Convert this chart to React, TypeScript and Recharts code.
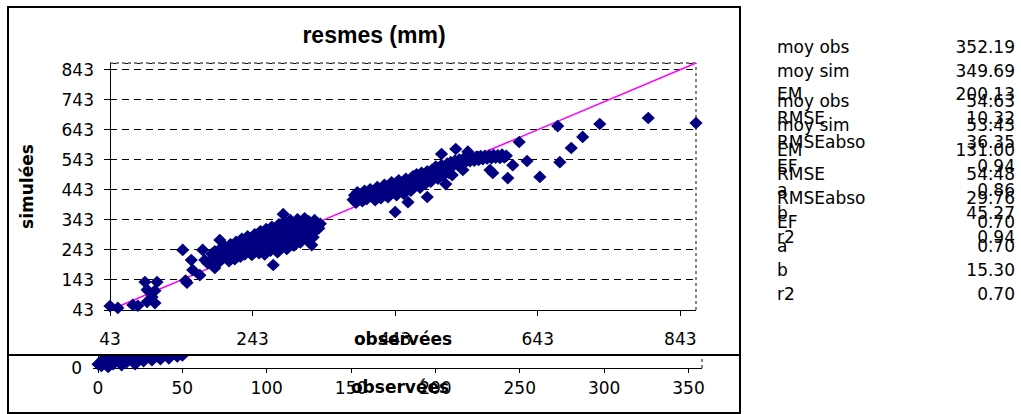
import React from "react";
import {
  ScatterChart,
  Scatter,
  XAxis,
  YAxis,
  CartesianGrid,
  ReferenceLine,
} from "recharts";

const lowPoints: [number, number][] = [
  [43, 56], [54, 50], [75, 60], [82, 57], [92, 136], [109, 136], [95, 110],
  [106, 107], [102, 86], [95, 70], [106, 66],
];

const midEdgePoints: [number, number][] = [
  [145, 243], [151, 134], [149, 141], [157, 209], [159, 176], [169, 159],
  [173, 243], [176, 209], [180, 199], [190, 183], [197, 276], [286, 362],
  [291, 246], [302, 259], [326, 259], [272, 193],
];

const midPoints: [number, number][] = [
  [184, 205], [186, 230], [188, 215], [190, 238], [193, 222], [195, 200],
  [197, 245], [200, 212], [202, 232], [204, 255], [206, 218], [208, 240],
  [210, 205], [212, 262], [214, 228], [216, 248], [218, 212], [220, 270],
  [222, 236], [224, 255], [226, 220], [228, 280], [230, 245], [232, 228],
  [234, 265], [236, 288], [238, 238], [240, 252], [242, 226], [244, 275],
  [246, 295], [248, 245], [250, 262], [252, 232], [254, 305], [256, 280],
  [258, 250], [260, 228], [262, 312], [264, 268], [266, 290], [268, 240],
  [270, 320], [272, 258], [274, 300], [276, 278], [278, 235], [280, 328],
  [282, 262], [284, 305], [286, 285], [288, 338], [290, 250], [292, 315],
  [294, 270], [296, 342], [298, 295], [300, 258], [302, 325], [304, 280],
  [306, 345], [308, 305], [310, 268], [312, 335], [314, 290], [316, 348],
  [318, 312], [320, 275], [322, 338], [324, 298], [326, 320], [328, 285],
  [330, 342], [332, 308], [334, 325], [336, 315], [338, 330],
];

const upperPoints: [number, number][] = [
  [384, 410], [386, 425], [388, 400], [390, 435], [392, 415], [395, 428],
  [397, 405], [400, 440], [403, 412], [405, 430], [408, 445], [410, 420],
  [413, 438], [415, 408], [418, 452], [420, 428], [423, 415], [425, 445],
  [428, 460], [430, 432], [433, 418], [435, 450], [438, 468], [440, 435],
  [443, 455], [445, 425], [448, 475], [450, 445], [453, 462], [455, 430],
  [458, 480], [460, 450], [463, 470], [465, 440], [468, 488], [470, 458],
  [473, 495], [475, 475], [478, 450], [480, 500], [483, 480], [485, 462],
  [488, 505], [490, 485], [493, 470], [495, 510], [498, 495], [500, 520],
  [503, 480], [505, 505], [508, 525], [510, 490], [513, 515], [516, 530],
  [518, 500], [521, 535], [524, 522], [527, 540], [530, 528], [533, 544],
  [536, 532], [539, 547], [542, 536], [545, 550], [548, 538], [551, 552],
  [554, 540], [557, 553], [560, 542], [563, 555], [566, 545], [569, 556],
  [572, 547], [575, 557], [578, 548], [581, 559], [584, 550], [587, 558],
  [590, 549], [593, 560], [596, 551], [599, 556],
];

const upperEdgePoints: [number, number][] = [
  [443, 369], [461, 402], [488, 419], [514, 462], [523, 492], [538, 509],
  [576, 509], [580, 499], [601, 482], [608, 525], [628, 539], [646, 486],
  [674, 535], [508, 562], [528, 579], [545, 570], [559, 553], [617, 602],
  [671, 655], [690, 582], [706, 619], [730, 662], [798, 682], [865, 665],
];

// second (squashed) chart underneath: only the bottom strip shows
const lowerPoints: [number, number][] = [
  [0, 4], [2, 2], [3, 9], [5, 6], [6, 1], [8, 11], [9, 4], [11, 8], [12, 14],
  [14, 3], [15, 10], [17, 6], [19, 13], [20, 9], [22, 4], [23, 15], [25, 11],
  [27, 7], [28, 16], [30, 12], [32, 8], [33, 18], [35, 13], [37, 9], [38, 20],
  [40, 15], [42, 10], [44, 22], [45, 16], [47, 12], [49, 19], [50, 13],
  [52, 25],
];

const diagonal: [number, number][] = [[43, 43], [865, 865]];

const topXTicks = [43, 243, 443, 643, 843];
const topYTicks = [43, 143, 243, 343, 443, 543, 643, 743, 843];
const lowerXTicks = [0, 50, 100, 150, 200, 250, 300, 350];
const lowerYTicks = [0, 50, 100, 150, 200, 250, 300, 350];

const statLabels = ["moy obs", "moy sim", "EM", "RMSE", "RMSEabso", "EF", "a", "b", "r2"];
const statsFirst = [352.19, 349.69, 200.13, 10.32, 36.35, 0.94, 0.86, 45.27, 0.94];
const statsSecond = [54.63, 53.43, 131.0, 54.48, 29.76, 0.7, 0.7, 15.3, 0.7];

const toXY = (pts: [number, number][]) => pts.map(([x, y]) => ({ x, y }));

const NAVY = "#000080";

const Diamond = (props: any) => {
  const { cx, cy } = props;
  if (cx == null || cy == null) return <g />;
  return (
    <path
      d={`M${cx} ${cy - 6.3}L${cx + 6.6} ${cy}L${cx} ${cy + 6.3}L${cx - 6.6} ${cy}Z`}
      fill={NAVY}
    />
  );
};

const tickStyle = { fill: "#000", fontSize: 17 };
const boldLabel = { fill: "#000", fontSize: 17, fontWeight: "bold" as const };
const blackLine = { stroke: "#000", shapeRendering: "crispEdges" };

function StatTable({ values, firstCenter, step }: { values: number[]; firstCenter: number; step: number }) {
  return (
    <>
      {statLabels.map((label, i) => {
        const top = firstCenter + i * step - 9.7;
        return (
          <React.Fragment key={label}>
            <div style={{ position: "absolute", left: 777, top, lineHeight: "20px", fontSize: 17, whiteSpace: "nowrap" }}>
              {label}
            </div>
            <div style={{ position: "absolute", left: 895, width: 120, top, lineHeight: "20px", fontSize: 17, textAlign: "right" }}>
              {values[i].toFixed(2)}
            </div>
          </React.Fragment>
        );
      })}
    </>
  );
}

export default function App() {
  const allTop = [
    ...toXY(lowPoints),
    ...toXY(midEdgePoints),
    ...toXY(midPoints),
    ...toXY(upperPoints),
    ...toXY(upperEdgePoints),
  ];

  return (
    <div
      style={{
        position: "absolute",
        left: 0,
        top: 0,
        width: 1021,
        height: 414,
        background: "#fff",
        overflow: "hidden",
        fontFamily: "'DejaVu Sans', sans-serif",
        color: "#000",
      }}
    >
      {/* lower chart frame + chart (mostly hidden behind the upper one) */}
      <div
        style={{
          position: "absolute",
          left: 7,
          top: 354,
          width: 734,
          height: 60,
          border: "2px solid #000",
          boxSizing: "border-box",
        }}
      />
      <div style={{ position: "absolute", left: 0, top: 0 }}>
        <ScatterChart width={741} height={414} margin={{ top: 20, right: 39, bottom: 0, left: 38 }}>
          <XAxis
            type="number"
            dataKey="x"
            domain={[0, 358]}
            ticks={lowerXTicks}
            tick={tickStyle}
            tickSize={5}
            tickMargin={9}
            height={46}
            axisLine={blackLine}
            tickLine={blackLine}
            label={{ value: "observées", position: "insideTop", offset: 13, style: boldLabel }}
          />
          <YAxis
            type="number"
            dataKey="y"
            domain={[0, 360]}
            ticks={lowerYTicks}
            tick={tickStyle}
            tickSize={5}
            tickMargin={11}
            width={60}
            axisLine={blackLine}
            tickLine={blackLine}
          />
          <ReferenceLine x={358} stroke="#808080" strokeDasharray="3 3" strokeWidth={2} />
          <Scatter data={toXY(lowerPoints)} shape={Diamond} isAnimationActive={false} />
        </ScatterChart>
      </div>

      {/* upper chart */}
      <div
        style={{
          position: "absolute",
          left: 7,
          top: 6,
          width: 734,
          height: 350,
          border: "2px solid #000",
          boxSizing: "border-box",
          background: "#fff",
        }}
      />
      <div style={{ position: "absolute", left: 0, top: 0 }}>
        <ScatterChart width={741} height={356} margin={{ top: 63, right: 45, bottom: 0, left: 10 }}>
          <CartesianGrid
            horizontal
            vertical={false}
            stroke="#000"
            strokeDasharray="7 5"
            shapeRendering="crispEdges"
          />
          <XAxis
            type="number"
            dataKey="x"
            domain={[43, 865]}
            ticks={topXTicks}
            tick={tickStyle}
            tickSize={6}
            tickMargin={17}
            height={46}
            axisLine={blackLine}
            tickLine={blackLine}
            label={{ value: "observées", position: "insideTop", offset: 23, style: boldLabel }}
          />
          <YAxis
            type="number"
            dataKey="y"
            domain={[43, 865]}
            ticks={topYTicks}
            tick={tickStyle}
            tickSize={6}
            tickMargin={10}
            width={100}
            axisLine={blackLine}
            tickLine={blackLine}
            label={{
              value: "simulées",
              angle: -90,
              position: "insideLeft",
              offset: 17,
              style: { ...boldLabel, textAnchor: "middle" },
            }}
          />
          <ReferenceLine y={865} stroke="#808080" strokeDasharray="3 3" strokeWidth={2} />
          <ReferenceLine x={865} stroke="#808080" strokeDasharray="3 3" strokeWidth={2} />
          <Scatter
            data={toXY(diagonal)}
            line={{ stroke: "#FF00FF", strokeWidth: 1.5 }}
            shape={() => <g />}
            isAnimationActive={false}
          />
          <Scatter data={allTop} shape={Diamond} isAnimationActive={false} />
        </ScatterChart>
      </div>

      <div
        style={{
          position: "absolute",
          left: 274,
          top: 20.5,
          width: 200,
          textAlign: "center",
          fontFamily: "'Liberation Sans', Arial, sans-serif",
          fontWeight: "bold",
          fontSize: 23,
          lineHeight: "28px",
        }}
      >
        resmes (mm)
      </div>

      <StatTable values={statsFirst} firstCenter={46.5} step={23.8} />
      <StatTable values={statsSecond} firstCenter={101} step={24.1} />
    </div>
  );
}
